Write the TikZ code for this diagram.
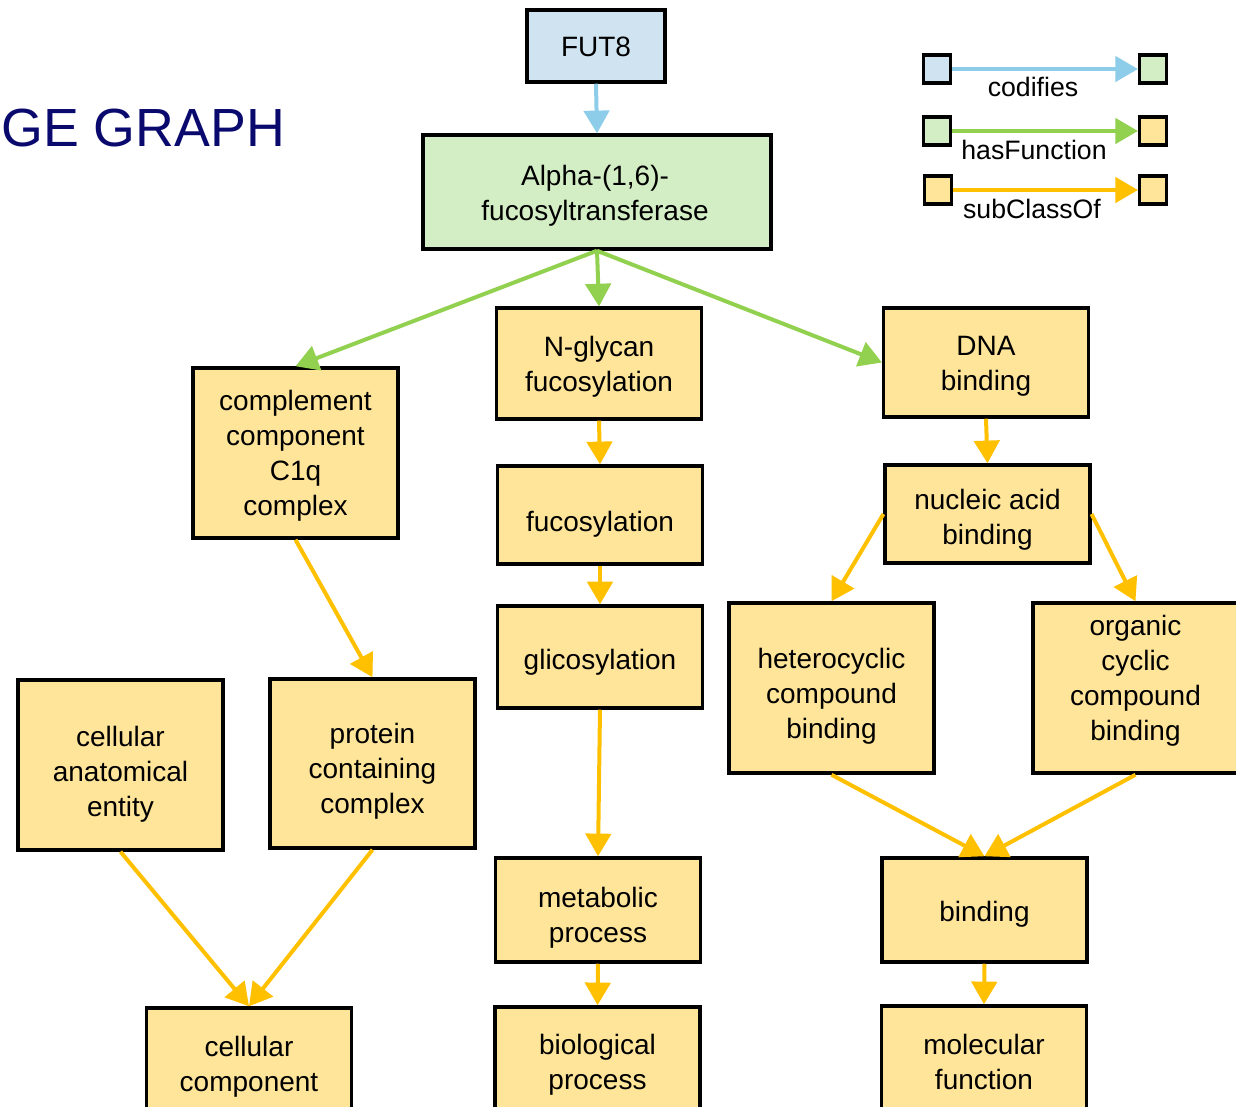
\documentclass[tikz,border=0pt]{standalone}
\usepackage{fontspec}
\setmainfont{Liberation Sans}
\usetikzlibrary{arrows.meta}
\definecolor{bluefill}{HTML}{CFE4F0}
\definecolor{greenfill}{HTML}{D3EEC5}
\definecolor{yellowfill}{HTML}{FFE599}
\definecolor{bluearrow}{HTML}{8ECDEA}
\definecolor{greenarrow}{HTML}{92D050}
\definecolor{orangearrow}{HTML}{FFC000}
\definecolor{titlenavy}{HTML}{0A0A6E}
% term box: name, x, y, height, text offset, text
\newcommand\termbox[6]{%
  \node[gobox, minimum height=#4] (#1) at (#2,#3) {};
  \node[boxtext] (#1-text) at (#2,#3+#5) {#6};}
\begin{document}
\begin{tikzpicture}[x=0.75pt,y=-0.75pt,
  box/.style={draw=black, line width=2.6pt, inner sep=0pt, fill=yellowfill},
  boxtext/.style={inner sep=0pt, align=center, font=\fontsize{21}{26.25}\selectfont},
  gobox/.style={box, minimum width=153.5pt},
  mark square/.style={draw=black, line width=2.6pt, inner sep=0pt,
    minimum width=20pt, minimum height=21pt},
  rel/.style={line width=3pt, -{Triangle[length=17pt,width=19pt]}},
  codifies/.style={rel, draw=bluearrow, -{Triangle[length=17pt,width=19pt,fill=bluearrow]}},
  hasfunction/.style={rel, draw=greenarrow},
  subclass/.style={rel, draw=orangearrow},
  legendlabel/.style={inner sep=0pt, font=\fontsize{20}{24}\selectfont}
]
\useasboundingbox (0,0) rectangle (1236,1107);
\clip (0,0) rectangle (1236,1107);

% title
\node[anchor=base west, inner sep=0pt, text=titlenavy,
  font=\fontsize{40.3}{48}\selectfont] (title) at (1,146) {GE GRAPH};

% gene and enzyme
\node[box, fill=bluefill, minimum width=103.5pt, minimum height=54pt] (fut8) at (596,46) {};
\node[boxtext] (fut8-text) at (596,47) {FUT8};
\node[box, fill=greenfill, minimum width=261pt, minimum height=85.5pt] (enzyme) at (597,192) {};
\node[boxtext] (enzyme-text) at (595,196) {Alpha-(1,6)-\\fucosyltransferase};

% middle column: biological process
\termbox{nglycan}{599}{363.5}{83pt}{3}{N-glycan\\fucosylation}
\termbox{fucos}{600}{515}{73.5pt}{9}{fucosylation}
\termbox{glicos}{600}{657}{76.5pt}{5}{glicosylation}
\termbox{metab}{598}{910}{78pt}{8}{metabolic\\process}
\termbox{bioproc}{597.5}{1062}{82.5pt}{3}{biological\\process}

% left columns: cellular component
\termbox{c1q}{295.5}{453}{127.5pt}{3}{complement\\component\\C1q\\complex}
\termbox{anat}{120.5}{765}{127.5pt}{9}{cellular\\anatomical\\entity}
\termbox{protein}{372.5}{763.5}{126.75pt}{8}{protein\\containing\\complex}
\termbox{cellcomp}{249}{1064}{84pt}{3}{cellular\\component}

% right columns: molecular function
\termbox{dna}{986}{362.5}{81.75pt}{4}{DNA\\binding}
\termbox{nucleic}{987.5}{514}{73.5pt}{6}{nucleic acid\\binding}
\termbox{hetero}{831.5}{688}{127.5pt}{8}{heterocyclic\\compound\\binding}
\termbox{organic}{1135.5}{688}{127.5pt}{-7}{organic\\cyclic\\compound\\binding}
\termbox{binding}{984.5}{910}{78pt}{4}{binding}
\termbox{molfun}{984}{1061}{82.5pt}{1}{molecular\\function}

% relations
\draw[codifies] (fut8.south) -- (enzyme.north);
\draw[hasfunction] (enzyme.south) -- (nglycan.north);
\draw[hasfunction] (enzyme.south) -- (c1q.north);
\draw[hasfunction] (enzyme.south) -- (dna.west);

\draw[subclass] (nglycan.south) -- (fucos.north);
\draw[subclass] (fucos.south) -- (glicos.north);
\draw[subclass] (glicos.south) -- (metab.north);
\draw[subclass] (metab.south) -- (bioproc.north);

\draw[subclass] (c1q.south) -- (protein.north);
\draw[subclass] (anat.south) -- (cellcomp.north);
\draw[subclass] (protein.south) -- (cellcomp.north);

\draw[subclass] (dna.south) -- (nucleic.north);
\draw[subclass] (nucleic.west) -- (hetero.north);
\draw[subclass] (nucleic.east) -- (organic.north);
\draw[subclass] (hetero.south) -- (binding.north);
\draw[subclass] (organic.south) -- (binding.north);
\draw[subclass] (binding.south) -- (molfun.north);

% legend
\node[mark square, fill=bluefill] (l1a) at (937,69) {};
\node[mark square, fill=greenfill] (l1b) at (1153,69) {};
\node[mark square, fill=greenfill] (l2a) at (937,131) {};
\node[mark square, fill=yellowfill] (l2b) at (1153,131) {};
\node[mark square, fill=yellowfill] (l3a) at (938,190) {};
\node[mark square, fill=yellowfill] (l3b) at (1153,190) {};
\draw[codifies] (l1a.east) -- (l1b.west);
\draw[hasfunction] (l2a.east) -- (l2b.west);
\draw[subclass] (l3a.east) -- (l3b.west);
\node[legendlabel] (lab1) at (1033,87) {codifies};
\node[legendlabel] (lab2) at (1034,150) {hasFunction};
\node[legendlabel] (lab3) at (1032,209) {subClassOf};
\end{tikzpicture}
\end{document}
